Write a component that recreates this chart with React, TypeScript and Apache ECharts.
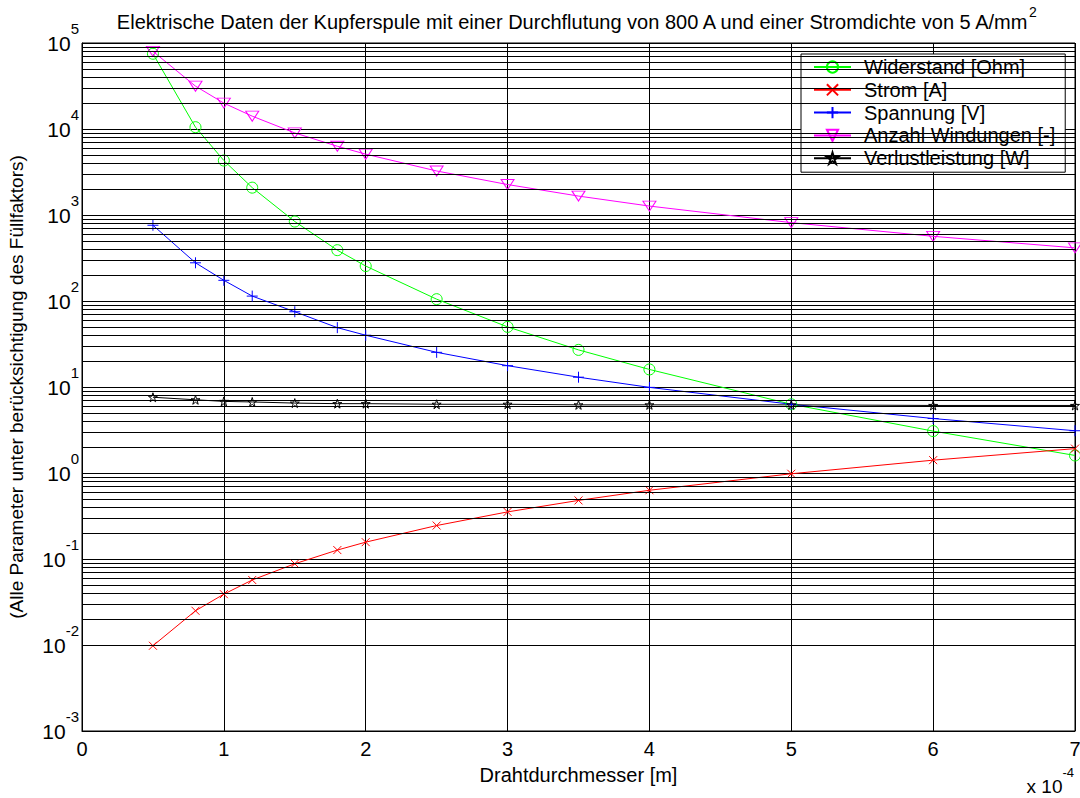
import React, { useEffect, useRef } from "react";
import * as echarts from "echarts";

// Drahtdurchmesser in units of 1e-4 m
const xValues = [0.5, 0.8, 1.0, 1.2, 1.5, 1.8, 2.0, 2.5, 3.0, 3.5, 4.0, 5.0, 6.0, 7.0];
const widerstand = [75000, 10500, 4300, 2080, 840, 390, 255, 105, 50, 27, 16, 6.3, 3.07, 1.6];
const strom = [0.0098, 0.025, 0.039, 0.057, 0.088, 0.127, 0.157, 0.245, 0.353, 0.48, 0.63, 0.98, 1.41, 1.92];
const spannung = [760, 278, 174, 114, 75, 49, 40, 25.3, 17.7, 13, 9.9, 6.3, 4.3, 3.1];
const windungen = [80000, 31500, 20000, 14100, 9000, 6300, 5100, 3250, 2260, 1660, 1270, 815, 565, 415];
const verlust = [7.6, 7.1, 6.8, 6.7, 6.5, 6.4, 6.4, 6.3, 6.3, 6.2, 6.2, 6.2, 6.1, 6.1];

const seriesNames = [
  "Widerstand [Ohm]",
  "Strom [A]",
  "Spannung [V]",
  "Anzahl Windungen [-]",
  "Verlustleistung [W]",
];

// log-axis minor grid positions: decades × multipliers
const decades = [-3, -2, -1, 0, 1, 2, 3, 4];
const minorMultipliers = [2, 3, 4, 5, 6, 7, 8, 9];

const FONT = "'Liberation Sans', Arial, Helvetica, sans-serif";

const SYM_X = "path://M0,0L10,10M10,0L0,10";
const SYM_PLUS = "path://M5,0L5,10M0,5L10,5";
const SYM_TRI = "path://M0,0L12,0L6,10Z";
const SYM_STAR =
  "path://M50,0L61,35L98,35L68,57L79,91L50,70L21,91L32,57L2,35L39,35Z";

function makeSeries(
  name: string,
  values: number[],
  color: string,
  symbol: string,
  symbolSize: number | number[]
) {
  return {
    name,
    type: "line",
    z: 3,
    data: xValues.map((x, i) => [x, values[i]]),
    symbol,
    symbolSize,
    showAllSymbol: true,
    lineStyle: { color, width: 1 },
    itemStyle: { color: "rgba(0,0,0,0)", borderColor: color, borderWidth: 1 },
    emphasis: { disabled: true },
  };
}

export default function App() {
  const ref = useRef<HTMLDivElement>(null);

  useEffect(() => {
    document.body.style.margin = "0";
    if (!ref.current) return;
    const chart = echarts.init(ref.current, null, { renderer: "svg" });

    const minorLines: { yAxis: number }[] = [];
    decades.forEach((d) =>
      minorMultipliers.forEach((m) => minorLines.push({ yAxis: m * Math.pow(10, d) }))
    );

    const option = {
      animation: false,
      backgroundColor: "#fff",
      textStyle: { fontFamily: FONT },
      title: {
        text:
          "{b|Elektrische Daten der Kupferspule mit einer Durchflutung von 800 A und einer Stromdichte von 5 A/mm}{s|2}",
        left: 576,
        textAlign: "center",
        top: 5,
        padding: 0,
        textStyle: {
          fontFamily: FONT,
          fontWeight: "normal",
          color: "#000",
          rich: {
            b: { fontSize: 20, lineHeight: 34, fontFamily: FONT, color: "#000", verticalAlign: "middle" },
            s: { fontSize: 14, fontFamily: FONT, color: "#000", verticalAlign: "top" },
          },
        },
      },
      legend: {
        data: seriesNames,
        orient: "vertical",
        left: 801,
        top: 54,
        padding: [3, 10, 4, 12],
        itemWidth: 37,
        itemHeight: 14,
        itemGap: 2.8,
        backgroundColor: "#fff",
        borderColor: "#000",
        borderWidth: 1,
        textStyle: {
          fontFamily: FONT,
          fontSize: 20,
          lineHeight: 20,
          color: "#000",
          padding: [0, 0, 0, 8],
        },
      },
      grid: {
        left: 82,
        top: 43,
        width: 993,
        height: 688,
        show: true,
        borderColor: "#000",
        borderWidth: 1,
        backgroundColor: "#fff",
        containLabel: false,
        outerBoundsMode: "none",
      },
      xAxis: {
        type: "value",
        min: 0,
        max: 7,
        interval: 1,
        axisLine: { show: true, onZero: false, lineStyle: { color: "#000", width: 1 } },
        axisTick: { show: false },
        axisLabel: { color: "#000", fontSize: 20, fontFamily: FONT, margin: 8 },
        splitLine: { show: true, lineStyle: { color: "#000", width: 1 } },
        name: "Drahtdurchmesser [m]",
        nameLocation: "middle",
        nameGap: 34,
        nameTextStyle: { color: "#000", fontSize: 20, fontFamily: FONT },
      },
      yAxis: {
        type: "log",
        logBase: 10,
        min: 0.001,
        max: 100000,
        splitNumber: 8,
        axisLine: { show: true, lineStyle: { color: "#000", width: 1 } },
        axisTick: { show: false },
        axisLabel: {
          margin: 3,
          formatter: (v: number) => `{b|10}{s|${Math.round(Math.log10(v))}}`,
          rich: {
            b: { fontSize: 21, lineHeight: 44, fontFamily: FONT, color: "#000", verticalAlign: "middle" },
            s: { fontSize: 15, fontFamily: FONT, color: "#000", verticalAlign: "top" },
          },
        },
        splitLine: { show: true, lineStyle: { color: "#000", width: 1 } },
        name: "(Alle Parameter unter berücksichtigung des Füllfaktors)",
        nameLocation: "middle",
        nameGap: 56,
        nameRotate: 90,
        nameTextStyle: { color: "#000", fontSize: 19, fontFamily: FONT },
      },
      graphic: [
        {
          type: "text",
          x: 1074,
          y: 786,
          style: {
            text: "{b|x 10}{s|-4}",
            align: "right",
            verticalAlign: "middle",
            rich: {
              b: { fontSize: 19, lineHeight: 40, fontFamily: FONT, fill: "#000", verticalAlign: "middle" },
              s: { fontSize: 13, fontFamily: FONT, fill: "#000", verticalAlign: "top" },
            },
          },
        },
      ],
      series: [
        {
          name: "__grid",
          type: "line",
          z: 1,
          data: [],
          silent: true,
          markLine: {
            silent: true,
            symbol: ["none", "none"],
            label: { show: false },
            lineStyle: { color: "#000", width: 1, type: "solid" },
            emphasis: { disabled: true },
            data: minorLines,
          },
        },
        makeSeries(seriesNames[0], widerstand, "#00ff00", "circle", 11),
        makeSeries(seriesNames[1], strom, "#ff0000", SYM_X, 8),
        makeSeries(seriesNames[2], spannung, "#0000ff", SYM_PLUS, 11),
        makeSeries(seriesNames[3], windungen, "#ff00ff", SYM_TRI, [13, 10]),
        makeSeries(seriesNames[4], verlust, "#000000", SYM_STAR, 9),
      ],
    };

    chart.setOption(option as any);
    return () => chart.dispose();
  }, []);

  return <div ref={ref} style={{ width: 1080, height: 798 }} />;
}
